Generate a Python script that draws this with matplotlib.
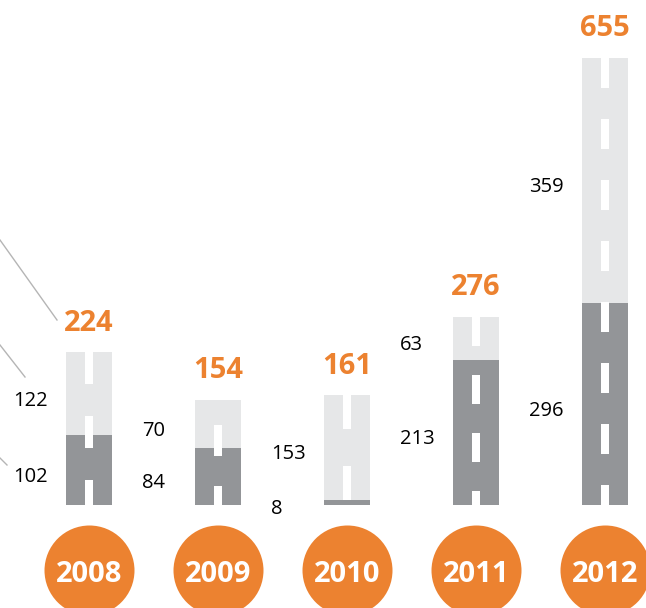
import matplotlib.pyplot as plt
from matplotlib.patches import Rectangle

years = ['2008', '2009', '2010', '2011', '2012']
lower = [102, 84, 8, 213, 296]
upper = [122, 70, 153, 63, 359]
totals = [224, 154, 161, 276, 655]

ORANGE = '#EC8230'
DARK = '#939598'
LIGHT = '#E6E7E8'

# pixel layout helpers (figure is 646x608 at 100 dpi)
W, H = 646, 608
x0_px, step_px = 89, 129          # first bar centre, bar spacing
base_px = 505                      # baseline from top
px_per_unit = 447 / 655.0          # vertical scale

def ux(px):                        # horizontal px -> x units
    return px / step_px

def uy(px):                        # vertical px -> y units
    return px / px_per_unit

# dash pattern per bar: (first dash offset from top, period, dash length) in px
dash_style = [(0, 64, 32), (25, 61, 31), (0, 71, 34), (0, 58, 29), (0, 61, 30)]

plt.rcParams['font.family'] = ['Open Sans', 'DejaVu Sans']
fig = plt.figure(figsize=(W / 100, H / 100), dpi=100)
ax = fig.add_axes([0, 0, 1, 1])
ax.set_xlim(-ux(x0_px), ux(W - x0_px))
ax.set_ylim(-uy(H - base_px), uy(base_px))
ax.axis('off')

xs = list(range(len(years)))
bw = ux(46)
ax.bar(xs, lower, width=bw, color=DARK, zorder=2)
ax.bar(xs, upper, bottom=lower, width=bw, color=LIGHT, zorder=2)

# white road dashes
dw = ux(8)
for x, tot, (off, per, dl) in zip(xs, totals, dash_style):
    top = tot - uy(off)
    while top > 0:
        bot = max(top - uy(dl), 0)
        ax.add_patch(Rectangle((x - dw / 2, bot), dw, min(top, tot) - bot,
                               color='white', lw=0, zorder=3))
        top -= uy(per)

# segment values
for x, lo, up in zip(xs, lower, upper):
    ax.annotate(str(up), (x - ux(76), lo + up / 2), xytext=(0, -5),
                textcoords='offset points', ha='left', va='center',
                fontsize=14.5, color='black')
    ax.annotate(str(lo), (x - ux(76), lo / 2), xytext=(0, -5),
                textcoords='offset points', ha='left', va='center',
                fontsize=14.5, color='black')

# totals
for x, tot in zip(xs, totals):
    ax.annotate(str(tot), (x, tot), xytext=(0, 29 * 0.72),
                textcoords='offset points', ha='center', va='center',
                fontsize=21, fontweight='bold', color=ORANGE)

# year circles
cy = -uy(570 - base_px)
ax.scatter(xs, [cy] * len(xs), s=(90 * 0.72) ** 2, color=ORANGE, lw=0,
           zorder=2, clip_on=False)
for x, yr in zip(xs, years):
    ax.annotate(yr, (x, cy), xytext=(0, -3), textcoords='offset points',
                ha='center', va='center', fontsize=21,
                fontweight='bold', color='white', zorder=3)

# leader lines coming from the left
leaders = [((0, 240), (57, 320)), ((0, 345), (25, 377)), ((0, 458), (7, 465))]
for (ax_px, ay_px), (bx_px, by_px) in leaders:
    ax.plot([ux(ax_px - x0_px), ux(bx_px - x0_px)],
            [uy(base_px - ay_px), uy(base_px - by_px)],
            color='#B5B5B5', lw=1)

fig.savefig('out.png', dpi=100)
